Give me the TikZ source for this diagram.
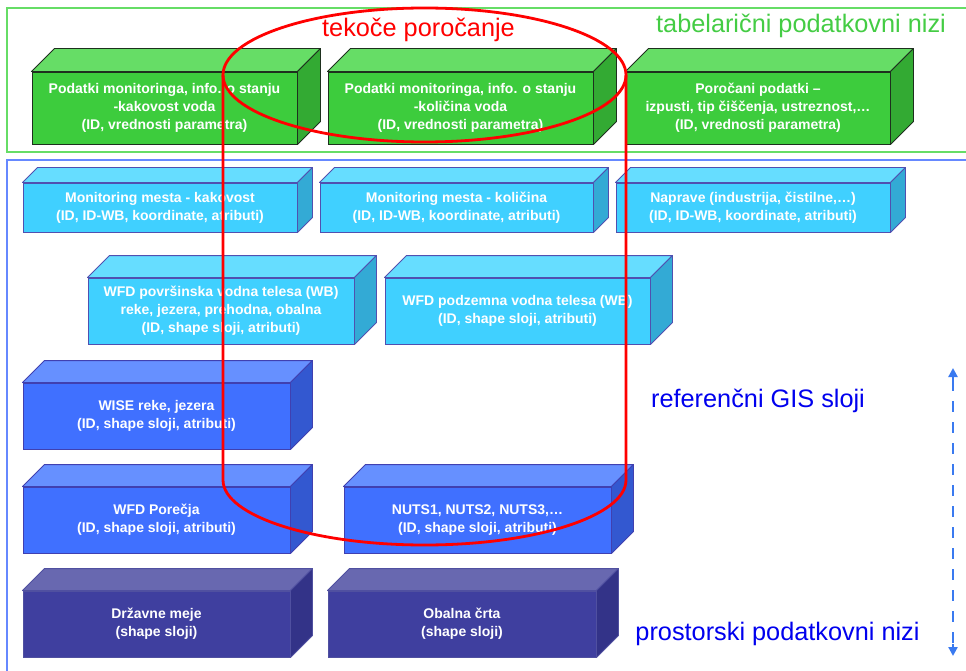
\documentclass[tikz,border=0pt]{standalone}
\usepackage{fontspec}
\setmainfont{Liberation Sans}
\usetikzlibrary{arrows.meta}
\definecolor{gfront}{HTML}{3DCC3D}
\definecolor{gtop}{HTML}{66DD66}
\definecolor{gside}{HTML}{33AA33}
\definecolor{gline}{HTML}{1E301E}
\definecolor{cfront}{HTML}{40D0FF}
\definecolor{ctop}{HTML}{66DDFF}
\definecolor{cside}{HTML}{33AAD5}
\definecolor{cline}{HTML}{5050B0}
\definecolor{bfront}{HTML}{4070FF}
\definecolor{btop}{HTML}{6690FF}
\definecolor{bside}{HTML}{3358D0}
\definecolor{bline}{HTML}{4040B0}
\definecolor{dfront}{HTML}{3F3F9F}
\definecolor{dtop}{HTML}{6868B0}
\definecolor{dside}{HTML}{333388}
\definecolor{dline}{HTML}{5050A0}
\definecolor{frameg}{HTML}{66DD66}
\definecolor{frameb}{HTML}{6688FF}
\definecolor{titleg}{HTML}{44CC44}
\definecolor{titleb}{HTML}{0000EE}
\definecolor{arrowb}{HTML}{3A7AF0}
\newcommand{\cubebox}[8]{%
  \node[cubefront, fill=#7front, draw=#7line,
        minimum width={#4-#2}, minimum height={#5-#3}]
        (#1) at ({(#2+#4)/2},{(#3+#5)/2}) {#8};
  \draw[cubeface, fill=#7top, draw=#7line] (#1.north west) -- ++(#6,-#6)
     -- ([shift={(#6,-#6)}]#1.north east) -- (#1.north east) -- cycle;
  \draw[cubeface, fill=#7side, draw=#7line] (#1.north east)
     -- ([shift={(#6,-#6)}]#1.north east) -- ([shift={(#6,-#6)}]#1.south east)
     -- (#1.south east) -- cycle;
}
\begin{document}
\begin{tikzpicture}[x=1pt,y=-1pt,
  cubefront/.style={rectangle, inner sep=0pt, line width=0.9pt, text=white,
     align=center, font=\bfseries\fontsize{14}{18}\selectfont},
  cubeface/.style={line width=0.9pt, line join=round},
  title/.style={inner sep=0pt, font=\fontsize{25.3}{29}\selectfont},
  frame/.style={line width=2pt},
  tip/.style={arrowb, line width=2.8pt, -{Triangle[width=9pt,length=9pt]}}]
\useasboundingbox (0,0) rectangle (966,671);
\clip (0,0) rectangle (966,671);
% frames
\draw[frame, frameg] (7,8) rectangle (980,152);
\draw[frame, frameb] (7,160) rectangle (980,690);
% green cubes
\cubebox{g1}{32}{72}{297}{144}{23}{g}{Podatki monitoringa, info. o stanju\\-kakovost voda\\(ID, vrednosti parametra)}
\cubebox{g2}{328}{72}{593}{144}{23}{g}{Podatki monitoringa, info. o stanju\\-količina voda\\(ID, vrednosti parametra)}
\cubebox{g3}{626}{72}{890}{144}{23}{g}{Poročani podatki –\\izpusti, tip čiščenja, ustreznost,…\\(ID, vrednosti parametra)}
% cyan cubes
\cubebox{c1}{23}{183}{297}{232}{15}{c}{Monitoring mesta - kakovost\\(ID, ID-WB, koordinate, atributi)}
\cubebox{c2}{320}{183}{593}{232}{15}{c}{Monitoring mesta - količina\\(ID, ID-WB, koordinate, atributi)}
\cubebox{c3}{616}{183}{890}{232}{15}{c}{Naprave (industrija, čistilne,…)\\(ID, ID-WB, koordinate, atributi)}
\cubebox{c4}{88}{278}{354}{344}{22}{c}{WFD površinska vodna telesa (WB)\\reke, jezera, prehodna, obalna\\(ID, shape sloji, atributi)}
\cubebox{c5}{385}{278}{650}{344}{22}{c}{WFD podzemna vodna telesa (WB)\\(ID, shape sloji, atributi)}
% blue cubes
\cubebox{b1}{23}{383}{290}{449}{22}{b}{WISE reke, jezera\\(ID, shape sloji, atributi)}
\cubebox{b2}{23}{487}{290}{553}{22}{b}{WFD Porečja\\(ID, shape sloji, atributi)}
\cubebox{b3}{344}{487}{611}{553}{22}{b}{NUTS1, NUTS2, NUTS3,…\\(ID, shape sloji, atributi)}
% dark cubes
\cubebox{d1}{23}{591}{290}{657}{22}{d}{Državne meje\\(shape sloji)}
\cubebox{d2}{328}{591}{596}{657}{22}{d}{Obalna črta\\(shape sloji)}
% red cylinder
\draw[red, line width=2.8pt] (424.5,75) ellipse [x radius=201.5pt, y radius=67pt];
\draw[red, line width=2.8pt] (223,75) -- (223,480)
   arc[start angle=180, end angle=360, x radius=201.5pt, y radius=65pt] -- (626,75);
% titles
\node[title, text=red, anchor=base] (tek) at (418.5,37) {tekoče poročanje};
\node[title, text=titleg, anchor=base] (tab) at (801,33) {tabelarični podatkovni nizi};
\node[title, text=titleb, anchor=base] (ref) at (758,407) {referenčni GIS sloji};
\node[title, text=titleb, anchor=base] (pro) at (777.5,640) {prostorski podatkovni nizi};
% dashed arrow
\coordinate (atop) at (953,368);
\coordinate (abot) at (953,656);
\coordinate (atop2) at (953,380);
\coordinate (abot2) at (953,644);
\draw[arrowb, line width=2.8pt, dash pattern=on 11pt off 10pt] (atop2) -- (abot2);
\draw[tip] (atop2) -- (atop);
\draw[tip] (abot2) -- (abot);
\end{tikzpicture}
\end{document}
